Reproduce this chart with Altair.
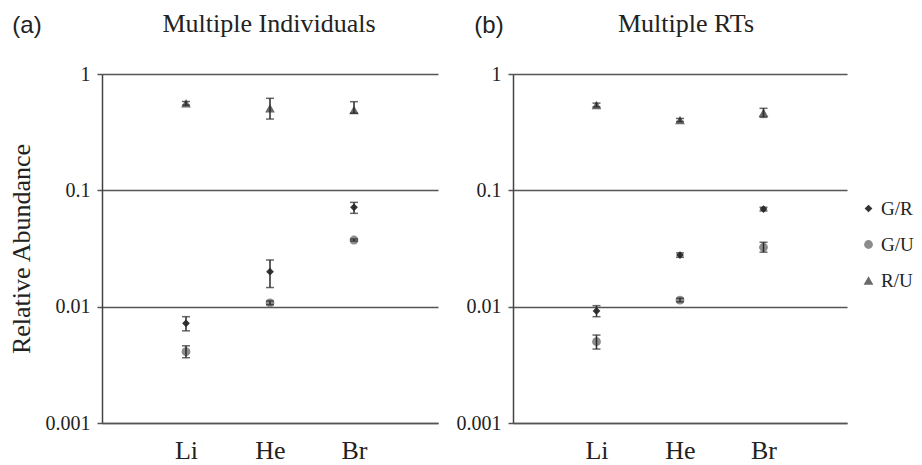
import altair as alt
import pandas as pd

categories = ["Li", "He", "Br"]
ratios = ["G/R", "G/U", "R/U"]
panels = ["Multiple Individuals", "Multiple RTs"]
panel_tags = ["(a)", "(b)"]

# Panel (a): Multiple Individuals
a_gr = [0.0072, 0.0200, 0.0714]
a_gr_lo = [0.0062, 0.0146, 0.0634]
a_gr_hi = [0.0082, 0.0252, 0.0788]
a_gu = [0.0041, 0.0108, 0.0374]
a_gu_lo = [0.00364, 0.0104, 0.0366]
a_gu_hi = [0.00461, 0.0112, 0.0382]
a_ru = [0.56, 0.507, 0.49]
a_ru_lo = [0.54, 0.41, 0.46]
a_ru_hi = [0.58, 0.618, 0.578]

# Panel (b): Multiple RTs
b_gr = [0.0092, 0.0278, 0.0690]
b_gr_lo = [0.0082, 0.0266, 0.0665]
b_gr_hi = [0.0102, 0.0290, 0.0715]
b_gu = [0.0050, 0.0114, 0.0324]
b_gu_lo = [0.00432, 0.0110, 0.0294]
b_gu_hi = [0.0057, 0.0118, 0.0358]
b_ru = [0.541, 0.402, 0.465]
b_ru_lo = [0.522, 0.390, 0.424]
b_ru_hi = [0.562, 0.415, 0.507]

series = {
    panels[0]: {"G/R": (a_gr, a_gr_lo, a_gr_hi), "G/U": (a_gu, a_gu_lo, a_gu_hi), "R/U": (a_ru, a_ru_lo, a_ru_hi)},
    panels[1]: {"G/R": (b_gr, b_gr_lo, b_gr_hi), "G/U": (b_gu, b_gu_lo, b_gu_hi), "R/U": (b_ru, b_ru_lo, b_ru_hi)},
}

rows = []
for p in panels:
    for r in ratios:
        v, lo, hi = series[p][r]
        for k, c in enumerate(categories):
            rows.append({"panel": p, "tissue": c, "pos": k + 1, "ratio": r,
                         "value": v[k], "lo": lo[k], "hi": hi[k]})
df = pd.DataFrame(rows)

SERIF = "Liberation Serif"
SANS = "Liberation Sans"
label_expr = " : ".join(
    [f"datum.value == {k + 1} ? '{c}'" for k, c in enumerate(categories)]) + " : ''"

shape_scale = alt.Scale(domain=ratios, range=["diamond", "circle", "triangle-up"])
color_scale = alt.Scale(domain=ratios, range=["#333333", "#8c8c8c", "#6a6a6a"])
size_scale = alt.Scale(domain=ratios, range=[60, 95, 95])


def make_panel(i, width, title_x, tag_x):
    d = df[df.panel == panels[i]]
    base = alt.Chart(d)
    x = alt.X("pos:Q", scale=alt.Scale(domain=[0, 4], nice=False),
              axis=alt.Axis(values=[1, 2, 3], labelExpr=label_expr, ticks=False,
                            grid=False, labelFont=SERIF, labelFontSize=26,
                            labelPadding=14, labelColor="#222", domainColor="#555",
                            domainWidth=1.5),
              title=None)
    yaxis = alt.Axis(values=[0.001, 0.01, 0.1, 1], format="~g", grid=True,
                     gridColor="#555", gridWidth=1.5, domainColor="#444",
                     domainWidth=1.5, tickColor="#555", tickSize=5, tickWidth=1.5,
                     labelFont=SERIF, labelFontSize=20, labelColor="#222",
                     labelPadding=7, titleFont=SERIF, titleFontSize=26,
                     titleFontWeight="normal", titleColor="#222", titlePadding=11)
    y = alt.Y("value:Q", scale=alt.Scale(type="log", domain=[0.001, 1]),
              axis=yaxis, title="Relative Abundance" if i == 0 else None)
    pts = base.mark_point(filled=True, opacity=1).encode(
        x=x, y=y,
        shape=alt.Shape("ratio:N", scale=shape_scale, title=None),
        color=alt.Color("ratio:N", scale=color_scale, title=None),
        size=alt.Size("ratio:N", scale=size_scale, title=None),
    )
    bars = base.mark_rule(color="#2a2a2a", strokeWidth=1.5).encode(
        x="pos:Q", y="lo:Q", y2="hi:Q")
    cap_lo = base.mark_tick(color="#2a2a2a", orient="horizontal", size=8,
                            thickness=1.5).encode(x="pos:Q", y="lo:Q")
    cap_hi = base.mark_tick(color="#2a2a2a", orient="horizontal", size=8,
                            thickness=1.5).encode(x="pos:Q", y="hi:Q")
    tag = alt.Chart(pd.DataFrame({"t": [panel_tags[i]]})).mark_text(
        font=SANS, fontSize=24, color="#222", align="center", baseline="middle"
    ).encode(text="t:N", x=alt.value(tag_x), y=alt.value(-48))
    ttl = alt.Chart(pd.DataFrame({"t": [panels[i]]})).mark_text(
        font=SERIF, fontSize=26, color="#222", align="center", baseline="middle"
    ).encode(text="t:N", x=alt.value(title_x), y=alt.value(-50))
    return alt.layer(pts, bars, cap_lo, cap_hi, tag, ttl).properties(
        width=width, height=349)


chart = alt.hconcat(
    make_panel(0, 336, 167, -75), make_panel(1, 334, 173, -24), spacing=18
).properties(
    padding={"top": 3, "left": 0, "right": 0, "bottom": 0}
).configure_view(stroke=None).configure_legend(
    orient="none", legendX=757, legendY=125, labelFont=SERIF, labelFontSize=19,
    labelColor="#222", rowPadding=16, labelOffset=3, symbolStrokeWidth=0
)

chart.save("out.html", embed_options={"renderer": "svg", "actions": False})
